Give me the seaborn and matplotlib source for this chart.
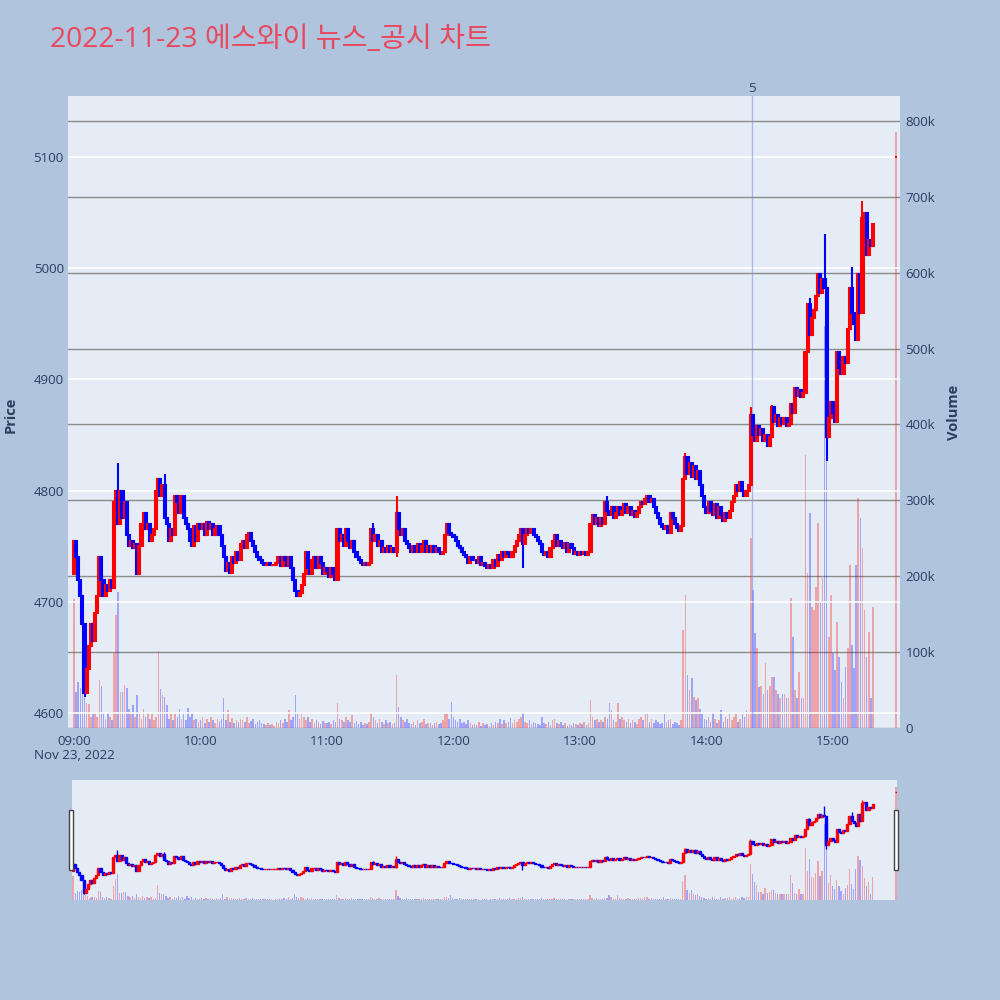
import matplotlib
matplotlib.use("Agg")
import matplotlib.pyplot as plt
import matplotlib.transforms as mtransforms
from matplotlib.patches import Rectangle
import numpy as np
import pandas as pd
import seaborn as sns

title = "2022-11-23 에스와이 뉴스_공시 차트"

# 1-minute candles from 09:00 (minute 0) to 15:19 (minute 379)
first_open = 4725
close_prices = [
    4755, 4740, 4720, 4705, 4680, 4618, 4640, 4660, 4680, 4665,  # 09:00
    4690, 4705, 4740, 4720, 4705, 4715, 4710, 4720, 4712, 4790,  # 09:10
    4800, 4770, 4800, 4775, 4790, 4760, 4750, 4755, 4748, 4752,  # 09:20
    4725, 4750, 4770, 4780, 4765, 4770, 4755, 4760, 4765, 4800,  # 09:30
    4810, 4795, 4805, 4775, 4770, 4755, 4765, 4760, 4795, 4790,  # 09:40
    4780, 4795, 4775, 4770, 4765, 4755, 4750, 4768, 4755, 4770,  # 09:50
    4765, 4770, 4760, 4772, 4765, 4770, 4760, 4765, 4768, 4760,  # 10:00
    4750, 4740, 4728, 4735, 4726, 4740, 4735, 4745, 4738, 4752,  # 10:10
    4755, 4748, 4760, 4762, 4755, 4750, 4745, 4740, 4738, 4735,  # 10:20
    4733, 4733, 4735, 4733, 4733, 4733, 4735, 4740, 4732, 4740,  # 10:30
    4738, 4732, 4740, 4730, 4720, 4710, 4705, 4708, 4715, 4725,  # 10:40
    4745, 4730, 4725, 4738, 4740, 4730, 4740, 4735, 4725, 4730,  # 10:50
    4728, 4722, 4730, 4725, 4720, 4765, 4755, 4760, 4750, 4765,  # 11:00
    4755, 4748, 4755, 4745, 4740, 4738, 4735, 4733, 4735, 4733,  # 11:10
    4735, 4765, 4755, 4760, 4750, 4755, 4745, 4748, 4745, 4750,  # 11:20
    4745, 4748, 4745, 4780, 4765, 4760, 4765, 4755, 4752, 4748,  # 11:30
    4745, 4750, 4745, 4752, 4745, 4750, 4755, 4745, 4750, 4745,  # 11:40
    4750, 4745, 4748, 4745, 4743, 4745, 4760, 4770, 4762, 4760,  # 11:50
    4758, 4755, 4750, 4748, 4745, 4742, 4740, 4735, 4740, 4738,  # 12:00
    4738, 4735, 4740, 4733, 4735, 4732, 4730, 4733, 4730, 4738,  # 12:10
    4732, 4742, 4738, 4745, 4740, 4745, 4743, 4740, 4745, 4750,  # 12:20
    4755, 4760, 4765, 4752, 4760, 4765, 4762, 4765, 4760, 4758,  # 12:30
    4755, 4752, 4745, 4742, 4745, 4740, 4748, 4755, 4760, 4750,  # 12:40
    4755, 4750, 4748, 4753, 4745, 4752, 4748, 4743, 4745, 4742,  # 12:50
    4745, 4743, 4745, 4742, 4745, 4770, 4778, 4770, 4775, 4768,  # 13:00
    4775, 4770, 4790, 4782, 4778, 4785, 4775, 4780, 4785, 4778,  # 13:10
    4782, 4788, 4780, 4785, 4778, 4782, 4776, 4780, 4785, 4790,  # 13:20
    4788, 4792, 4795, 4790, 4792, 4785, 4780, 4775, 4770, 4767,  # 13:30
    4765, 4768, 4762, 4780, 4775, 4770, 4766, 4764, 4768, 4810,  # 13:40
    4830, 4815, 4825, 4812, 4822, 4810, 4818, 4805, 4795, 4785,  # 13:50
    4780, 4790, 4782, 4778, 4788, 4775, 4785, 4778, 4773, 4780,  # 14:00
    4775, 4782, 4790, 4795, 4805, 4800, 4808, 4800, 4795, 4800,  # 14:10
    4805, 4868, 4850, 4845, 4858, 4850, 4855, 4845, 4850, 4840,  # 14:20
    4848, 4875, 4862, 4868, 4858, 4865, 4860, 4865, 4858, 4860,  # 14:30
    4878, 4870, 4892, 4885, 4890, 4884, 4888, 4925, 4968, 4940,  # 14:40
    4955, 4962, 4975, 4995, 4978, 4990, 4982, 4848, 4865, 4880,  # 14:50
    4870, 4862, 4925, 4910, 4905, 4920, 4915, 4945, 4982, 4960,  # 15:00
    4950, 4935, 4995, 4960, 5045, 5050, 5012, 5025, 5020, 5040,  # 15:10
]

# volume per minute, in thousands of shares
volumes_k = [
    170, 47, 60, 53, 72, 45, 33, 31, 15, 18,
    20, 15, 63, 55, 18, 12, 20, 15, 10, 99,
    149, 179, 47, 47, 57, 53, 25, 20, 30, 15,
    43, 20, 12, 25, 15, 20, 12, 18, 10, 15,
    101, 52, 43, 41, 30, 12, 18, 10, 20, 15,
    25, 12, 18, 10, 27, 15, 20, 10, 12, 8,
    10, 14, 6, 12, 8, 15, 10, 7, 12, 9,
    12, 40, 10, 24, 8, 13, 6, 10, 8, 12,
    10, 8, 14, 6, 9, 12, 5, 8, 10, 6,
    5, 4, 6, 4, 5, 3, 8, 6, 10, 7,
    12, 8, 24, 10, 15, 43, 20, 12, 18, 15,
    10, 14, 8, 12, 6, 10, 8, 5, 9, 7,
    6, 8, 5, 10, 8, 33, 12, 10, 8, 15,
    10, 8, 17, 6, 9, 5, 8, 4, 6, 5,
    8, 20, 14, 10, 6, 12, 8, 5, 10, 6,
    8, 5, 7, 70, 28, 15, 10, 8, 12, 6,
    5, 8, 4, 10, 6, 8, 12, 5, 7, 6,
    4, 6, 8, 5, 7, 10, 18, 20, 12, 34,
    15, 10, 8, 12, 6, 8, 5, 10, 6, 4,
    5, 4, 8, 3, 6, 4, 5, 3, 6, 4,
    8, 6, 12, 5, 10, 6, 8, 13, 6, 10,
    8, 12, 15, 20, 8, 6, 10, 5, 8, 6,
    5, 4, 15, 6, 5, 8, 4, 10, 12, 6,
    5, 8, 4, 6, 3, 5, 4, 6, 5, 4,
    6, 5, 8, 4, 6, 37, 15, 10, 12, 8,
    10, 8, 15, 12, 33, 24, 10, 8, 33, 12,
    15, 10, 8, 12, 6, 10, 8, 5, 12, 15,
    10, 18, 20, 8, 12, 6, 10, 8, 5, 6,
    20, 8, 10, 12, 5, 8, 6, 4, 10, 129,
    175, 70, 50, 66, 41, 37, 40, 25, 18, 12,
    10, 15, 8, 20, 12, 6, 10, 24, 8, 15,
    12, 18, 10, 15, 20, 8, 12, 18, 15, 24,
    20, 250, 182, 125, 105, 54, 55, 45, 86, 50,
    55, 67, 67, 50, 45, 40, 45, 45, 40, 40,
    171, 120, 50, 40, 74, 40, 40, 360, 204, 283,
    160, 155, 186, 270, 167, 198, 530, 460, 120, 175,
    99, 77, 140, 94, 60, 40, 80, 105, 215, 109,
    79, 215, 303, 277, 237, 155, 94, 127, 40, 160,
]

# closing auction at 15:30
auction_minute = 390
auction_price = 5100
auction_volume_k = 785

# wicks that stick out of the bodies
wick_high_minutes = [21, 43, 142, 153, 253, 290, 321, 331, 349, 356, 369, 374]
wick_high_values = [4825, 4815, 4771, 4795, 4795, 4834, 4875, 4877, 4973, 5031, 5001, 5060]
wick_low_minutes = [5, 153, 213, 357]
wick_low_values = [4614, 4740, 4730, 4827]

# news marker
news_minute = 321.6
news_label = "5"

tick_minutes = [0, 60, 120, 180, 240, 300, 360]
tick_labels = ["09:00", "10:00", "11:00", "12:00", "13:00", "14:00", "15:00"]
date_label = "Nov 23, 2022"
price_ticks = [4600, 4700, 4800, 4900, 5000, 5100]
volume_ticks = [0, 100, 200, 300, 400, 500, 600, 700, 800]

# ---- build the frame
n = len(close_prices)
df = pd.DataFrame({
    "minute": list(range(n)) + [auction_minute],
    "open": [first_open] + close_prices[:-1] + [auction_price],
    "close": close_prices + [auction_price],
    "volume": volumes_k + [auction_volume_k],
})
df["high"] = df[["open", "close"]].max(axis=1)
df["low"] = df[["open", "close"]].min(axis=1)
for m, v in zip(wick_high_minutes, wick_high_values):
    df.loc[df.minute == m, "high"] = v
for m, v in zip(wick_low_minutes, wick_low_values):
    df.loc[df.minute == m, "low"] = v
df["dir"] = np.where(df.close >= df.open, "up", "down")

palette = {"up": "#FF0000", "down": "#0000FF"}
page_bg = "#B0C4DE"
plot_bg = "#E5ECF6"
text_col = "#2a3f5f"

sns.set_style("white")
plt.rcParams["font.family"] = ["Open Sans", "Noto Sans CJK KR", "DejaVu Sans"]

fig = plt.figure(figsize=(10, 10), dpi=100)
fig.patch.set_facecolor(page_bg)

xlim_main = (-2.85, 391.8)
price_lim = (4586.5, 5154.8)
vol_lim = (0, 832.7)


def draw(ax_p, ax_v, lw, shrink):
    ax_v.set_zorder(ax_p.get_zorder() - 1)
    ax_p.patch.set_visible(False)
    ax_v.patch.set_visible(True)
    ax_v.patch.set_facecolor(plot_bg)
    sns.histplot(data=df, x="minute", weights="volume", hue="dir",
                 hue_order=["up", "down"], palette=palette, discrete=True,
                 shrink=shrink, alpha=0.3, linewidth=0, legend=False, ax=ax_v)
    cols = df["dir"].map(palette).tolist()
    ax_p.vlines(df.minute, df.low, df.high, colors=cols, lw=lw, zorder=3)
    ax_p.bar(df.minute, df.close - df.open, bottom=df.open, width=1.0,
             color=cols, edgecolor=cols, linewidth=lw, zorder=3)
    ax_p.set_ylim(*price_lim)
    ax_v.set_ylim(*vol_lim)
    for a in (ax_p, ax_v):
        for s in a.spines.values():
            s.set_visible(False)
        a.set_xlabel("")
        a.set_ylabel("")


# ---- main chart
ax_p = fig.add_axes([0.068, 0.272, 0.832, 0.632])
ax_v = ax_p.twinx()
draw(ax_p, ax_v, 1.5, 0.75)
ax_p.set_xlim(*xlim_main)

ax_v.set_yticks(volume_ticks)
ax_v.set_yticklabels(["0" if v == 0 else f"{v}k" for v in volume_ticks])
ax_v.yaxis.grid(True, color="#8C8C8C", lw=1.0)
ax_p.set_yticks(price_ticks)
ax_p.set_yticklabels([str(p) for p in price_ticks])
ax_p.yaxis.grid(True, color="white", lw=1.2)
ax_p.xaxis.grid(False)
ax_v.xaxis.grid(False)

labels = [tick_labels[0] + "\n" + date_label] + tick_labels[1:]
ax_p.set_xticks(tick_minutes)
ax_p.set_xticklabels(labels, linespacing=1.15)
ax_p.tick_params(axis="x", length=0, pad=5, labelsize=9.6, labelcolor=text_col)
ax_p.tick_params(axis="y", length=0, pad=3, labelsize=9.6, labelcolor=text_col)
ax_v.tick_params(axis="y", length=0, pad=4, labelsize=9.6, labelcolor=text_col)

ax_p.axvline(news_minute, color="#7B93F0", alpha=0.6, lw=1.0, zorder=2)
trans = mtransforms.blended_transform_factory(ax_p.transData, ax_p.transAxes)
ax_p.text(news_minute, 1.002, news_label, transform=trans, ha="center",
          va="bottom", fontsize=9.6, color=text_col)

fig.text(0.011, 0.585, "Price", rotation=90, ha="center", va="center",
         fontsize=10.5, fontweight="bold", color=text_col)
fig.text(0.954, 0.588, "Volume", rotation=90, ha="center", va="center",
         fontsize=10.5, fontweight="bold", color=text_col)

fig.text(0.05, 0.960, title, ha="left", va="center", fontsize=20.3,
         color="#E8485E")

# ---- range slider
ax_sp = fig.add_axes([0.072, 0.100, 0.825, 0.120])
ax_sv = ax_sp.twinx()
draw(ax_sp, ax_sv, 1.0, 0.6)
ax_sp.set_xlim(-0.5, 390.5)
for a in (ax_sp, ax_sv):
    a.set_xticks([])
    a.set_yticks([])
    a.grid(False)

for hx in (0.069, 0.894):
    fig.patches.append(Rectangle((hx, 0.130), 0.004, 0.060, transform=fig.transFigure,
                                 facecolor="white", edgecolor="#444444", lw=1.0))

fig.savefig("out.png", dpi=100, facecolor=page_bg)
